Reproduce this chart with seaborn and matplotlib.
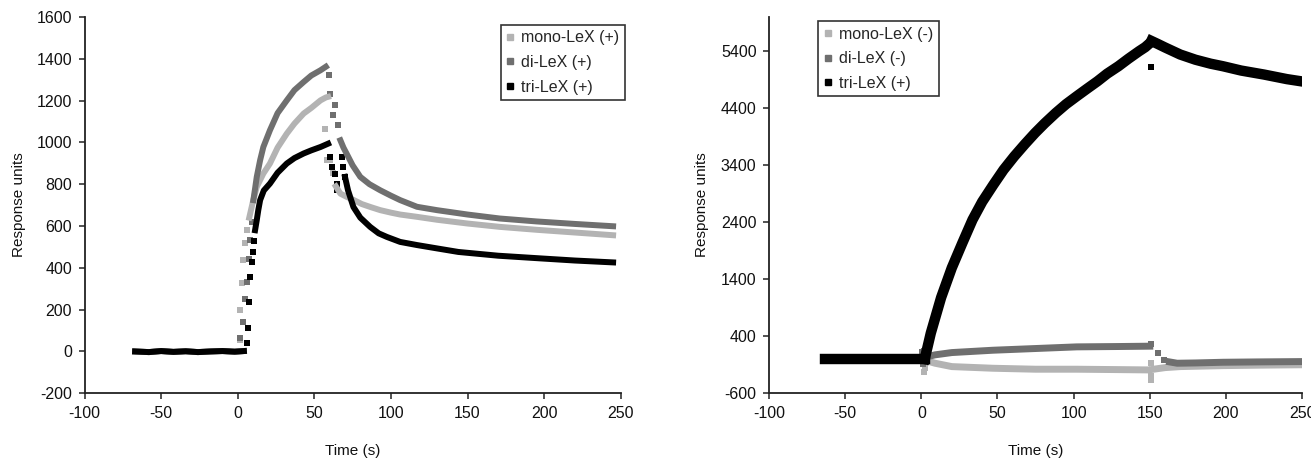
import numpy as np
import pandas as pd
import seaborn as sns
import matplotlib.pyplot as plt
from matplotlib.lines import Line2D

# ---------------- left panel: (+) ligands, short injection ----------------
L_BASE_T = [-67, -58, -50, -42, -34, -26, -18, -10, -2, 4]
L_BASE_V = [0, -3, 2, -2, 1, -3, 0, 2, -1, 2]

L_MONO_PTS_T = [1.2, 1.5, 2.6, 3.7, 4.8, 5.9, 57.0, 58.1, 60.5, 62.2]
L_MONO_PTS_V = [55, 198, 326, 437, 517, 580, 1066, 915, 915, 853]
L_MONO_RISE_T = [7.5, 10, 12.4, 16.7, 21, 26, 32, 37, 43, 48, 54, 57.5, 59]
L_MONO_RISE_V = [640, 720, 787, 851, 899, 975, 1042, 1090, 1138, 1165, 1201, 1215, 1218]
L_MONO_DECAY_T = [64, 67, 71, 75.5, 81, 87, 93, 100, 106, 117, 130, 150, 171, 195, 220, 245]
L_MONO_DECAY_V = [790, 755, 740, 725, 705, 690, 676, 664, 655, 644, 630, 612, 596, 582, 569, 556]

L_DI_PTS_T = [1.5, 3.7, 5.0, 6.1, 7.2, 8.0, 9.3, 59.8, 60.2, 62.4, 63.5, 65.7]
L_DI_PTS_V = [63, 142, 250, 330, 440, 532, 620, 1321, 1233, 1130, 1177, 1082]
L_DI_RISE_T = [10.2, 11.3, 12.4, 14.6, 16.7, 21, 26, 32, 37, 43, 48, 54, 57.5]
L_DI_RISE_V = [724, 779, 835, 915, 978, 1058, 1140, 1201, 1250, 1289, 1320, 1345, 1362]
L_DI_DECAY_T = [67, 69, 71, 75, 80, 86, 93, 100, 106, 117, 130, 150, 171, 195, 220, 245]
L_DI_DECAY_V = [1010, 975, 947, 890, 835, 800, 771, 745, 724, 692, 676, 655, 636, 622, 610, 599]

L_TRI_PTS_T = [5.9, 6.9, 7.6, 8.0, 9.1, 9.8, 10.7, 60.2, 61.3, 63.5, 64.6, 64.6, 67.9, 68.9, 70.0]
L_TRI_PTS_V = [39, 110, 238, 357, 429, 477, 530, 931, 883, 851, 803, 771, 931, 883, 835]
L_TRI_RISE_T = [11.3, 12.4, 13.4, 14.6, 17, 21, 26, 32, 37, 43, 48, 54, 59]
L_TRI_RISE_V = [580, 628, 676, 724, 770, 803, 855, 899, 925, 947, 962, 978, 994]
L_TRI_DECAY_T = [70, 72, 75.5, 80, 86.4, 92, 97.3, 106, 117, 130, 144, 170, 198, 220, 245]
L_TRI_DECAY_V = [835, 770, 691, 640, 596, 565, 548, 524, 509, 493, 476, 458, 445, 435, 426]

# ---------------- right panel: (-) mono/di vs (+) tri, long injection ----------------
R_BASE_T = [-63, -50, -35, -20, -5, 2.2]
R_BASE_V = [0, 0, 0, 0, 0, 0]

R_MONO_PTS_T = [1.5, 2.5, 150.5, 150.5, 151.0]
R_MONO_PTS_V = [-220, -150, -300, -360, -73]
R_MONO_RISE_T = [2.2, 9, 20, 47, 75, 102, 130, 148]
R_MONO_RISE_V = [-20, -73, -132, -161, -178, -178, -185, -190]
R_MONO_DECAY_T = [152, 160, 170, 198, 225, 249]
R_MONO_DECAY_V = [-180, -150, -132, -115, -106, -100]

R_DI_PTS_T = [0.5, 1.0, 2.0, 151.0, 155.4, 159.5]
R_DI_PTS_V = [130, -80, 150, 270, 102, -15]
R_DI_RISE_T = [2.2, 9, 20, 47, 75, 102, 129, 150]
R_DI_RISE_V = [30, 74, 114, 155, 185, 214, 220, 226]
R_DI_DECAY_T = [163, 168, 180, 198, 220, 249]
R_DI_DECAY_V = [-50, -73, -68, -56, -50, -44]

R_TRI_PTS_T = [150.5]
R_TRI_PTS_V = [5130]
R_TRI_RISE_T = [2.2, 6.2, 13, 20, 27, 33.6, 40, 47.3, 54, 61, 68, 74.7, 81, 88.3, 95,
                102, 109, 115.7, 122, 129.4, 136, 143, 147, 150]
R_TRI_RISE_V = [0, 454, 1080, 1600, 2040, 2443, 2760, 3058, 3320, 3555, 3770, 3966, 4135,
                4317, 4470, 4609, 4745, 4873, 5005, 5136, 5268, 5400, 5470, 5540]
R_TRI_DECAY_T = [151, 155, 160, 170, 180, 190, 198, 210, 225, 240, 249]
R_TRI_DECAY_V = [5580, 5530, 5465, 5341, 5250, 5180, 5136, 5060, 4990, 4910, 4873]

LEFT_LABELS = ["mono-LeX (+)", "di-LeX (+)", "tri-LeX (+)"]
RIGHT_LABELS = ["mono-LeX (-)", "di-LeX (-)", "tri-LeX (+)"]
COLORS = ["#b3b3b3", "#6f6f6f", "#000000"]


def make_frames(labels, base, traces, points):
	rows = []
	seg = 0
	for lab, segs in zip(labels, traces):
		for t, v in [base] + segs:
			for a, b in zip(t, v):
				rows.append((a, b, lab, seg))
			seg += 1
	tr = pd.DataFrame(rows, columns=["time", "resp", "series", "seg"])
	prow = []
	for lab, (t, v) in zip(labels, points):
		for a, b in zip(t, v):
			prow.append((a, b, lab))
	pt = pd.DataFrame(prow, columns=["time", "resp", "series"])
	return tr, pt


sns.set_theme(style="ticks")
plt.rcParams['font.family'] = ['Liberation Sans', 'DejaVu Sans']
plt.rcParams['axes.unicode_minus'] = False

fig = plt.figure(figsize=(13.11, 4.61), dpi=100)
ax1 = fig.add_axes([0.0645, 0.1469, 0.409, 0.8163])
ax2 = fig.add_axes([0.5866, 0.1469, 0.4066, 0.8163])

left_tr, left_pt = make_frames(
	LEFT_LABELS, (L_BASE_T, L_BASE_V),
	[[(L_MONO_RISE_T, L_MONO_RISE_V), (L_MONO_DECAY_T, L_MONO_DECAY_V)],
	 [(L_DI_RISE_T, L_DI_RISE_V), (L_DI_DECAY_T, L_DI_DECAY_V)],
	 [(L_TRI_RISE_T, L_TRI_RISE_V), (L_TRI_DECAY_T, L_TRI_DECAY_V)]],
	[(L_MONO_PTS_T, L_MONO_PTS_V), (L_DI_PTS_T, L_DI_PTS_V), (L_TRI_PTS_T, L_TRI_PTS_V)])

right_tr, right_pt = make_frames(
	RIGHT_LABELS, (R_BASE_T, R_BASE_V),
	[[(R_MONO_RISE_T, R_MONO_RISE_V), (R_MONO_DECAY_T, R_MONO_DECAY_V)],
	 [(R_DI_RISE_T, R_DI_RISE_V), (R_DI_DECAY_T, R_DI_DECAY_V)],
	 [(R_TRI_RISE_T, R_TRI_RISE_V), (R_TRI_DECAY_T, R_TRI_DECAY_V)]],
	[(R_MONO_PTS_T, R_MONO_PTS_V), (R_DI_PTS_T, R_DI_PTS_V), (R_TRI_PTS_T, R_TRI_PTS_V)])

panels = [(ax1, left_tr, left_pt, LEFT_LABELS, 4.3, (-200, 1600), np.arange(-200, 1601, 200)),
		  (ax2, right_tr, right_pt, RIGHT_LABELS, 5.0, (-600, 6000), np.arange(-600, 5401, 1000))]

for ax, tr, pt, labels, lw, ylim, yticks in panels:
	pal = dict(zip(labels, COLORS))
	for lab in labels:
		sub = tr[tr["series"] == lab]
		w = lw * 1.5 if (ax is ax2 and lab == labels[2]) else lw
		sns.lineplot(data=sub, x="time", y="resp", units="seg", estimator=None, sort=False,
					 color=pal[lab], linewidth=w, solid_capstyle="projecting",
					 solid_joinstyle="round", ax=ax, legend=False)
		sns.scatterplot(data=pt[pt["series"] == lab], x="time", y="resp", marker="s",
						color=pal[lab], s=20, linewidth=0, ax=ax, legend=False)

	ax.set_xlim(-100, 250)
	ax.set_xticks(np.arange(-100, 251, 50))
	ax.set_ylim(*ylim)
	ax.set_yticks(yticks)
	sns.despine(ax=ax)
	for s in ["left", "bottom"]:
		ax.spines[s].set_linewidth(1.3)
		ax.spines[s].set_color("#222222")
	ax.tick_params(direction="out", length=4, width=1.1, color="#222222",
				   labelsize=11.5, labelcolor="#111111", pad=5)
	ax.set_xlabel("Time (s)", fontsize=11, color="#111111")
	ax.set_ylabel("Response units", fontsize=11, color="#111111")
	ax.xaxis.set_label_coords(0.5, -0.135)
	ax.set_facecolor("white")

	handles = [Line2D([], [], marker="s", ls="", color=c, markersize=4.5) for c in COLORS]
	if ax is ax1:
		leg = ax.legend(handles, labels, loc="upper right", bbox_to_anchor=(1.008, 0.979),
						fontsize=11.5, handlelength=0.5, handletextpad=0.45,
						borderpad=0.35, labelspacing=0.6, borderaxespad=0, fancybox=False)
	else:
		leg = ax.legend(handles, labels, loc="upper left", bbox_to_anchor=(0.092, 0.989),
						fontsize=11.5, handlelength=0.5, handletextpad=0.45,
						borderpad=0.35, labelspacing=0.6, borderaxespad=0, fancybox=False)
	leg.get_frame().set_edgecolor("black")
	leg.get_frame().set_linewidth(1.2)

ax1.yaxis.set_label_coords(-0.109, 0.5)
ax2.yaxis.set_label_coords(-0.113, 0.5)

fig.savefig("out.png", dpi=100, facecolor="white")
